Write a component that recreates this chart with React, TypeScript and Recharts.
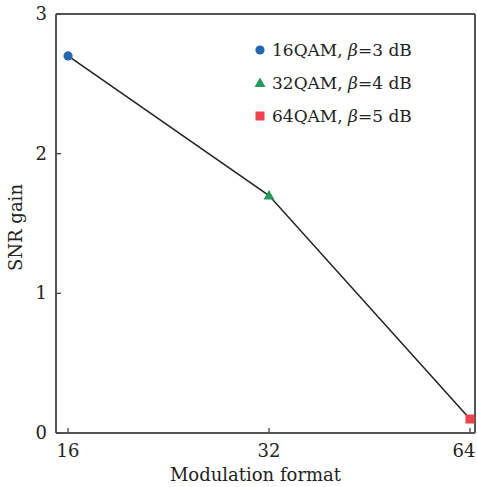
import React from 'react';
import { ComposedChart, Line, Scatter, XAxis, YAxis, ReferenceLine } from 'recharts';

const formats = [16, 32, 64];
const snrGain = [2.7, 1.7, 0.1];
const legendNames = ['16QAM', '32QAM', '64QAM'];
const betaValues = [3, 4, 5];
const markerColors = ['#2467b0', '#239a5c', '#ee434a'];
const markerShapes = ['circle', 'triangle', 'square'];
const yTicks = [0, 1, 2, 3];

const data = formats.map((f, i) => ({ lx: Math.log2(f), fmt: f, gain: snrGain[i] }));
const X_MIN = 3.94;
const X_MAX = 6.025;
const FONT = '"DejaVu Serif", serif';

function Marker({ shape, color, cx, cy }: { shape: string; color: string; cx: number; cy: number }) {
  if (shape === 'circle') return <circle cx={cx} cy={cy} r={4.6} fill={color} />;
  if (shape === 'triangle')
    return <polygon points={`${cx},${cy - 5.5} ${cx + 5.5},${cy + 4} ${cx - 5.5},${cy + 4}`} fill={color} />;
  return <rect x={cx - 4.5} y={cy - 4.5} width={9} height={9} fill={color} />;
}

const XTick = (props: any) => {
  const { x, y, payload } = props;
  const tx = Math.min(x, 464);
  return (
    <g>
      <line x1={x} x2={x} y1={y} y2={y - 5} stroke="#444" strokeWidth={1.3} />
      <text x={tx} y={y + 24} textAnchor="middle" fontSize={18} fontFamily={FONT} fill="#222">
        {Math.round(Math.pow(2, payload.value))}
      </text>
    </g>
  );
};

const YTick = (props: any) => {
  const { x, y, payload } = props;
  return (
    <g>
      <line x1={x} x2={x + 5} y1={y} y2={y} stroke="#444" strokeWidth={1.3} />
      <text x={x - 9} y={y + 6} textAnchor="end" fontSize={18} fontFamily={FONT} fill="#222">
        {payload.value}
      </text>
    </g>
  );
};

export default function App() {
  return (
    <div style={{ position: 'absolute', left: 0, top: 0, width: 477, height: 487, background: '#fff', fontFamily: FONT }}>
      <ComposedChart width={477} height={487} data={data} margin={{ top: 14, right: 2, left: 0, bottom: 0 }}>
        <XAxis
          dataKey="lx"
          type="number"
          domain={[X_MIN, X_MAX]}
          ticks={formats.map((f) => Math.log2(f))}
          tick={<XTick />}
          tickSize={0}
          tickMargin={0}
          tickLine={false}
          height={54}
          axisLine={{ stroke: '#555', strokeWidth: 2 }}
          allowDataOverflow
          label={(p: any) => {
            const vb = p.viewBox;
            return (
              <text x={vb.x + vb.width / 2 - 10} y={481} textAnchor="middle" fontSize={18} fontFamily={FONT} fill="#222">
                Modulation format
              </text>
            );
          }}
        />
        <YAxis
          type="number"
          domain={[0, 3]}
          ticks={yTicks}
          tick={<YTick />}
          tickSize={0}
          tickMargin={0}
          tickLine={false}
          width={56}
          axisLine={{ stroke: '#555', strokeWidth: 2 }}
          allowDataOverflow
          label={(p: any) => {
            const vb = p.viewBox;
            const cy = vb.y + vb.height / 2 + 4;
            return (
              <text
                x={15}
                y={cy}
                transform={`rotate(-90 15 ${cy})`}
                textAnchor="middle"
                dominantBaseline="central"
                fontSize={18}
                fontFamily={FONT}
                fill="#222"
              >
                SNR gain
              </text>
            );
          }}
        />
        <ReferenceLine y={3} stroke="#555" strokeWidth={2} ifOverflow="extendDomain" />
        <ReferenceLine x={X_MAX} stroke="#555" strokeWidth={2} ifOverflow="extendDomain" />
        <Line
          dataKey="gain"
          stroke="#222"
          strokeWidth={1.5}
          dot={false}
          activeDot={false}
          isAnimationActive={false}
          legendType="none"
        />
        {data.map((d, i) => (
          <Scatter
            key={legendNames[i]}
            name={`${legendNames[i]}, β=${betaValues[i]} dB`}
            data={[d]}
            dataKey="gain"
            fill={markerColors[i]}
            isAnimationActive={false}
            shape={(p: any) => <Marker shape={markerShapes[i]} color={markerColors[i]} cx={p.cx} cy={p.cy} />}
          />
        ))}
      </ComposedChart>
      <div style={{ position: 'absolute', left: 252, top: 33, fontSize: 17, color: '#222' }}>
        {legendNames.map((n, i) => (
          <div key={n} style={{ height: 33, display: 'flex', alignItems: 'center', whiteSpace: 'nowrap' }}>
            <svg width={16} height={14} style={{ marginRight: 4 }}>
              <Marker
                shape={markerShapes[i]}
                color={markerColors[i]}
                cx={8}
                cy={7}
              />
            </svg>
            <span>
              {n}, <i>β</i>={betaValues[i]} dB
            </span>
          </div>
        ))}
      </div>
    </div>
  );
}
